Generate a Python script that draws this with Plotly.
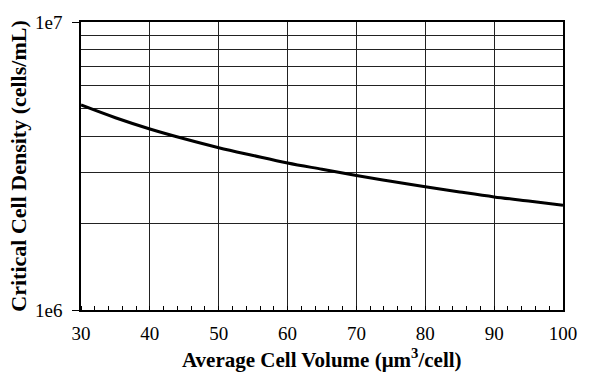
import plotly.graph_objects as go

volume = [30, 35, 40, 45, 50, 55, 60, 65, 70, 75, 80, 85, 90, 95, 100]
density = [5.15e6, 4.65e6, 4.25e6, 3.93e6, 3.66e6, 3.44e6, 3.24e6, 3.08e6,
           2.93e6, 2.80e6, 2.68e6, 2.57e6, 2.47e6, 2.39e6, 2.31e6]
x_ticks = [30, 40, 50, 60, 70, 80, 90, 100]
y_ticks = [1e6, 1e7]
y_tick_text = ["1e6", "1e7"]
y_grid = [2e6, 3e6, 4e6, 5e6, 6e6, 7e6, 8e6, 9e6]

fig = go.Figure()
fig.add_trace(go.Scatter(x=volume, y=density, mode="lines",
                         line=dict(color="black", width=3, shape="spline"),
                         showlegend=False))

font = "Liberation Serif, Times New Roman, serif"
fig.update_layout(
    width=591, height=374,
    margin=dict(l=81, r=28, t=19, b=64),
    paper_bgcolor="white", plot_bgcolor="white",
    font=dict(family=font, color="black", size=18),
    xaxis=dict(
        range=[30, 100], tickvals=x_ticks, ticks="", showline=True, mirror=True,
        linecolor="black", linewidth=1.5, showgrid=True, gridcolor="#222",
        gridwidth=1, zeroline=False, tickfont=dict(size=19, family=font),
        ticklabelstandoff=5,
        minor=dict(dtick=2, tick0=30, ticks="inside", ticklen=4,
                   tickcolor="black", showgrid=False),
    ),
    yaxis=dict(
        type="log", range=[6, 7], tickvals=y_ticks, ticktext=y_tick_text,
        ticks="outside", ticklen=7, tickcolor="black", showline=True, mirror=True,
        linecolor="black", linewidth=1.5, showgrid=False, zeroline=False,
        tickfont=dict(size=19, family=font), ticklabelstandoff=6,
        title=dict(text="<b>Critical Cell Density (cells/mL)</b>",
                   font=dict(size=22, family=font), standoff=2),
        minor=dict(tickvals=y_grid, showgrid=True, gridcolor="#222",
                   gridwidth=1, ticks=""),
    ),
    annotations=[dict(
        text="<b>Average Cell Volume (μm<sup>3</sup>/cell)</b>",
        xref="paper", yref="paper", x=0.5, y=-0.168, xanchor="center",
        yanchor="middle", showarrow=False, font=dict(size=21, family=font),
    )],
)

fig.write_html("out.html")
